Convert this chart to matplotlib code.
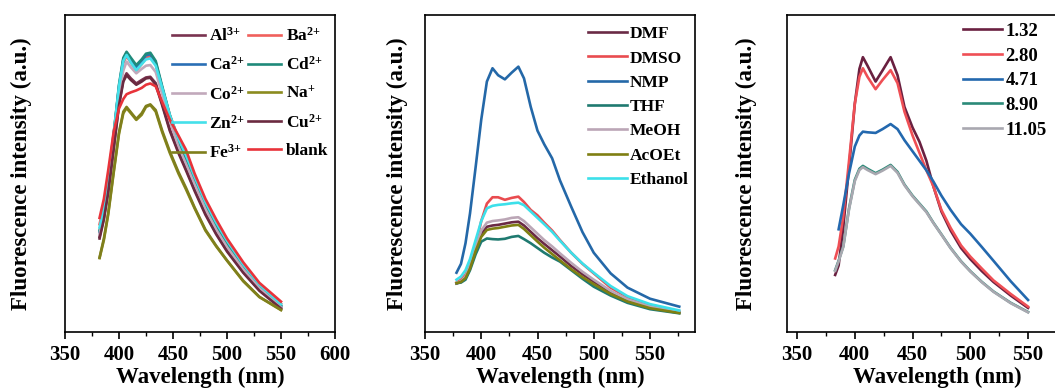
import matplotlib
matplotlib.use("Agg")
import matplotlib.pyplot as plt
import numpy as np
from matplotlib.ticker import MultipleLocator

plt.rcParams["font.family"] = ["Liberation Serif", "DejaVu Serif"]
plt.rcParams["font.weight"] = "bold"
plt.rcParams["mathtext.fontset"] = "custom"
plt.rcParams["mathtext.bf"] = "Liberation Serif:bold"
plt.rcParams["mathtext.rm"] = "Liberation Serif:bold"
plt.rcParams["mathtext.default"] = "bf"

# ---- metal ions ----
WL_ION = [382, 386, 390, 395, 400, 404, 407, 411, 416, 421, 425, 429, 434, 440, 447,
          455, 462, 470, 480, 490, 500, 515, 530, 550]
AL = [30, 36, 44.5, 58, 72, 79.5, 81.6, 80, 78.4, 79.5, 80.3, 80.5, 78.5, 72, 64,
      57, 51.5, 45, 37.5, 31.2, 25.8, 19, 13.3, 7.6]
BA = [34, 40, 48.5, 62.5, 77, 85, 87, 85, 82.5, 84.5, 86.5, 87, 84.5, 77, 68.5,
      61, 55.5, 48.8, 40.8, 34.3, 28.5, 21.2, 14.9, 8.9]
CA = [31.5, 37.5, 46.5, 61.5, 77.5, 86, 88, 86, 83.6, 85.5, 87.3, 87.6, 85, 77, 68,
      60, 54.5, 47.8, 40, 33.5, 27.7, 20.4, 14.2, 8.1]
CD = [32, 38, 47, 62, 78, 86.5, 88.4, 86.5, 84.2, 86, 87.8, 88.1, 85.5, 77.5, 68.5,
      60.5, 55, 48.3, 40.3, 33.8, 28, 20.7, 14.4, 8.3]
CO = [31, 37, 46, 60, 74.5, 82.5, 85.3, 83.5, 81.6, 83, 84, 84.2, 82, 75, 66.5,
      58.5, 53, 46.5, 38.8, 32.3, 26.8, 19.8, 13.8, 7.8]
NA = [23.3, 29, 37, 50, 62.5, 69, 70.6, 69, 66.9, 68.5, 71, 71.6, 69.5, 63, 56.5,
      50, 45, 39, 32, 27, 22.5, 16, 11, 6.9]
ZN = [33, 39, 48, 62.5, 77.5, 85.5, 87.4, 85, 82.6, 84.5, 86, 86.3, 84, 77, 68.5,
      61, 55.8, 49, 41, 34.5, 28.8, 21.3, 15, 8.8]
CU = [29.5, 35.5, 44, 57.5, 71.5, 79, 81, 79.5, 78, 79, 80, 80.2, 78, 71.5, 63.5,
      56.5, 51, 44.5, 37, 30.8, 25.4, 18.7, 13, 7.4]
FE = [23.5, 29.5, 37.5, 50.5, 63, 69.5, 71, 69.3, 67.2, 69, 71.3, 71.8, 70, 63.5, 57,
      50.5, 45.5, 39.3, 32.3, 27.2, 22.6, 16.2, 11.1, 7.0]
BLANK = [36, 42, 51, 63, 70.5, 73.5, 75, 75.6, 76.2, 77, 78, 78.4, 77.5, 72.5, 67,
         62, 57.5, 50, 42, 35.5, 29.5, 22, 15.5, 9.6]

# braces around "+" keep mathtext from spacing it like a binary operator
ION_LABELS = [r"Al$^{3{+}}$", r"Ba$^{2{+}}$", r"Ca$^{2{+}}$", r"Cd$^{2{+}}$", r"Co$^{2{+}}$",
              r"Na$^{{+}}$", r"Zn$^{2{+}}$", r"Cu$^{2{+}}$", r"Fe$^{3{+}}$", "blank"]
ION_COLORS = ["#7a3350", "#f0605c", "#2a6fb5", "#1f8a7a", "#c2a9bb",
              "#8b8b1e", "#44e0ea", "#6b2a40", "#7f7f1c", "#e8333a"]

# ---- solvents ----
WL_SOLV = [378, 382, 386, 390, 395, 400, 405, 410, 415, 421, 427, 433, 438, 444, 450,
           456, 463, 470, 480, 490, 500, 515, 530, 550, 576]
DMF = [15.3, 15.8, 17.2, 20.5, 26, 31, 33.2, 33.6, 33.8, 34.2, 34.6, 34.8, 33.6, 31.6, 29.6,
       27.8, 25.8, 23.8, 20.8, 18.2, 15.9, 12.6, 10, 7.7, 6.1]
DMSO = [15.6, 16.5, 18, 21, 27, 35, 40.5, 42.5, 42.5, 41.7, 42.3, 42.7, 41, 38.5, 36.8,
        34.5, 32, 29, 25, 21.5, 18.5, 14, 11, 8.5, 6.4]
NMP = [18.7, 21.5, 28, 37.4, 52, 67, 79, 83.2, 81, 79.7, 81.8, 83.7, 80, 71, 63.5,
       59.2, 54.8, 47.8, 39.5, 31.5, 25, 18.5, 14, 10.5, 8]
THF = [15.4, 15.6, 16.5, 19.5, 24.5, 28.5, 29.5, 29.3, 29.2, 29.4, 30, 30.3, 29.3, 28, 26.5,
       25, 23.5, 22.2, 19.5, 16.8, 14.3, 11.5, 9.2, 7.2, 5.9]
MEOH = [15.5, 16, 17.5, 21, 27, 32, 34.5, 35, 35.2, 35.5, 36, 36.2, 35, 33, 31,
        29, 27, 24.8, 21.8, 19, 16.5, 13, 10.3, 8, 6.3]
ACOET = [15.4, 15.8, 17, 20, 25.5, 30, 32.2, 32.6, 32.8, 33.2, 33.6, 33.8, 32.5, 30.5, 28.5,
         26.6, 24.6, 22.6, 19.8, 17.3, 15.1, 12, 9.6, 7.5, 6.0]
ETHANOL = [16.5, 17.5, 19.5, 23, 29, 35, 39, 39.8, 40.1, 40.3, 40.6, 40.8, 40, 38, 36,
           34, 31.6, 28.8, 25, 21.6, 18.7, 14.5, 11.3, 8.8, 6.8]

SOLV_LABELS = ["DMF", "DMSO", "NMP", "THF", "MeOH", "AcOEt", "Ethanol"]
SOLV_COLORS = ["#6a2a45", "#e94b4f", "#2468a8", "#1f7a70", "#bba6b6", "#7f7f12", "#3ce0ea"]

# ---- pH ----
WL_PH = [383, 386, 390, 395, 400, 404, 407, 411, 418, 424, 431, 437, 443, 450, 456,
         462, 468, 475, 483, 492, 500, 510, 520, 535, 550]
PH_132 = [18, 21, 33, 52, 72, 83, 86.7, 84, 79, 82.5, 86.7, 81, 71, 64.5, 60,
          54, 46, 38, 32, 26.5, 23, 19.2, 15.8, 11.5, 7.6]
PH_280 = [23.2, 27, 36.4, 54, 72, 80.5, 83.2, 80.5, 76.6, 79.5, 82.6, 78.5, 69.5, 62, 56.5,
          51, 46, 38.5, 32.8, 27.3, 23.8, 20, 16.3, 12, 8]
PH_471 = [np.nan, 32.4, 40, 50, 58.5, 62, 63.2, 63, 62.8, 64, 65.6, 64, 60.5, 57, 54,
          51, 47.5, 43, 38.5, 34, 31, 26.8, 22.5, 16, 10.1]
PH_890 = [19.5, 22.5, 27, 39, 48, 51.5, 52.4, 51.5, 50.1, 51.2, 52.7, 50.5, 46.5, 43, 40.5,
          38, 34.5, 30.8, 26.5, 22.3, 19.2, 15.8, 12.8, 9.2, 6.3]
PH_1105 = [19.3, 22.3, 26.8, 38.7, 47.6, 51.1, 52, 51.1, 49.8, 50.9, 52.4, 50.2, 46.3, 42.8, 40.3,
           37.8, 34.4, 30.7, 26.4, 22.2, 19.1, 15.7, 12.7, 9.1, 6.2]

PH_LABELS = ["1.32", "2.80", "4.71", "8.90", "11.05"]
PH_COLORS = ["#6a2040", "#ef4f55", "#2368ae", "#2b8a78", "#a9a8b0"]

W, H = 1055, 392
LW = 1.9
fig = plt.figure(figsize=(W / 100, H / 100), dpi=100)


def frac(left, width):
    return [left / W, (H - 332) / H, width / W, 317 / H]


def style_axes(ax, xmin, xmax, ticks):
    ax.set_xlim(xmin, xmax)
    ax.set_ylim(0, 100)
    ax.set_xticks(ticks)
    ax.xaxis.set_minor_locator(MultipleLocator(25))
    ax.set_yticks([])
    ax.tick_params(axis="x", which="major", direction="out", length=5, width=1.2,
                   labelsize=15, pad=4)
    ax.tick_params(axis="x", which="minor", direction="out", length=3, width=1.0)
    for sp in ax.spines.values():
        sp.set_linewidth(1.2)
    ax.set_xlabel("Wavelength (nm)", fontsize=16.5, fontweight="bold", labelpad=2)
    ax.set_ylabel("Fluorescence intensity (a.u.)", fontsize=16.5, fontweight="bold")


# panel a: metal ions
ax1 = fig.add_axes(frac(65, 270))
ion_series = [AL, BA, CA, CD, CO, NA, ZN, CU, FE, BLANK]
lines1 = {}
for ys, lab, col in zip(ion_series, ION_LABELS, ION_COLORS):
    lines1[lab], = ax1.plot(WL_ION, ys, color=col, lw=LW, label=lab)
style_axes(ax1, 350, 600, [350, 400, 450, 500, 550, 600])
ax1.yaxis.set_label_coords(-0.122, 0.5)
order = [0, 2, 4, 6, 8, 1, 3, 5, 7, 9]
ax1.legend([lines1[ION_LABELS[i]] for i in order], [ION_LABELS[i] for i in order],
           ncol=2, loc="upper left", bbox_to_anchor=(0.395, 0.962), frameon=False,
           fontsize=12.5, handlelength=1.9, handletextpad=0.25, columnspacing=0.2,
           labelspacing=0.65, borderpad=0, borderaxespad=0)

# panel b: solvents
ax2 = fig.add_axes(frac(425, 270))
solv_series = [DMF, DMSO, NMP, THF, MEOH, ACOET, ETHANOL]
for ys, lab, col in zip(solv_series, SOLV_LABELS, SOLV_COLORS):
    ax2.plot(WL_SOLV, ys, color=col, lw=LW, label=lab)
style_axes(ax2, 350, 590, [350, 400, 450, 500, 550])
ax2.yaxis.set_label_coords(-0.063, 0.5)
ax2.legend(loc="upper left", bbox_to_anchor=(0.604, 0.965), frameon=False,
           fontsize=12.5, handlelength=2.27, handletextpad=0.15,
           labelspacing=0.47, borderpad=0, borderaxespad=0)

# panel c: pH (frame runs off the right edge of the figure)
ax3 = fig.add_axes(frac(787, 300))
ph_series = [PH_132, PH_280, PH_471, PH_890, PH_1105]
for ys, lab, col in zip(ph_series, PH_LABELS, PH_COLORS):
    ax3.plot(WL_PH, ys, color=col, lw=LW, label=lab)
style_axes(ax3, 341.3, 341.3 + 300 / 1.155, [350, 400, 450, 500, 550])
ax3.yaxis.set_label_coords(-0.10, 0.5)
ax3.legend(loc="upper left", bbox_to_anchor=(0.587, 0.975), frameon=False,
           fontsize=13.5, handlelength=2.1, handletextpad=0.15,
           labelspacing=0.4, borderpad=0, borderaxespad=0)

fig.savefig("out.png", dpi=100)
